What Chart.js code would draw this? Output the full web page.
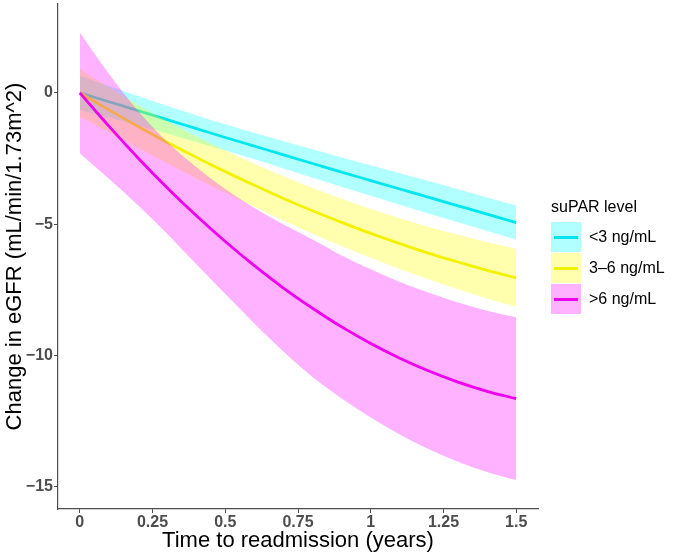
<!DOCTYPE html>
<html><head><meta charset="utf-8">
<script src="https://cdn.jsdelivr.net/npm/chart.js@4.4.0/dist/chart.umd.min.js"></script>
<style>
html,body{margin:0;padding:0;background:#fff;}
#wrap{position:relative;width:674px;height:557px;font-family:'Liberation Sans',Arial,Helvetica,sans-serif;}
#c{position:absolute;left:0;top:0;}
#legend{position:absolute;left:551px;top:197px;}
#legend .ttl{font-size:16px;line-height:20px;color:#000;white-space:nowrap;}
#legend .item{position:relative;height:31px;width:120px;}
#legend .key{position:absolute;left:0;top:0;width:30px;height:30px;}
#legend .key span{position:absolute;left:3px;top:13.5px;width:24px;height:3px;}
#legend .lab{position:absolute;left:38px;top:5px;font-size:16px;line-height:20px;color:#000;white-space:nowrap;}
</style></head><body>
<div id="wrap"><canvas id="c" width="674" height="557"></canvas><div id="legend"></div></div>
<script>
// ---- data ----
const timeYears = [0, 0.1, 0.2, 0.3, 0.4, 0.5, 0.6, 0.7, 0.8, 0.9, 1.0, 1.1, 1.2, 1.3, 1.4, 1.5];

const lowMean  = [0, -0.34, -0.68, -1.02, -1.36, -1.70, -2.03, -2.36, -2.69, -3.02, -3.34, -3.66, -3.98, -4.30, -4.62, -4.94];
const lowUpper = [0.65, 0.26, -0.12, -0.49, -0.85, -1.20, -1.53, -1.84, -2.15, -2.46, -2.76, -3.06, -3.36, -3.67, -3.98, -4.29];
const lowLower = [-0.65, -0.94, -1.24, -1.55, -1.87, -2.20, -2.53, -2.88, -3.23, -3.58, -3.92, -4.26, -4.60, -4.93, -5.26, -5.59];

const midMean  = [0, -0.65, -1.28, -1.88, -2.45, -3.00, -3.52, -4.02, -4.49, -4.93, -5.35, -5.74, -6.11, -6.44, -6.76, -7.04];
const midUpper = [0.9, 0.20, -0.46, -1.08, -1.65, -2.20, -2.70, -3.18, -3.62, -4.03, -4.42, -4.77, -5.11, -5.40, -5.69, -5.94];
const midLower = [-0.9, -1.50, -2.10, -2.68, -3.25, -3.80, -4.34, -4.86, -5.36, -5.83, -6.28, -6.71, -7.11, -7.48, -7.83, -8.14];

const highMean  = [0, -1.27, -2.48, -3.61, -4.67, -5.66, -6.58, -7.43, -8.20, -8.91, -9.54, -10.10, -10.59, -11.01, -11.36, -11.64];
const highUpper = [2.3, 0.73, -0.68, -1.86, -2.82, -3.66, -4.38, -5.01, -5.58, -6.19, -6.72, -7.20, -7.61, -7.98, -8.29, -8.54];
const highLower = [-2.3, -3.27, -4.28, -5.36, -6.52, -7.66, -8.78, -9.85, -10.82, -11.63, -12.36, -13.00, -13.57, -14.04, -14.43, -14.74];

const seriesNames = ['<3 ng/mL', '3\u20136 ng/mL', '>6 ng/mL'];
const legendTitle = 'suPAR level';
const xTickValues = [0, 0.25, 0.5, 0.75, 1, 1.25, 1.5];
const xTickLabels = ['0', '0.25', '0.5', '0.75', '1', '1.25', '1.5'];
const yTickValues = [-15, -10, -5, 0];
const yTickLabels = ['\u221215', '\u221210', '\u22125', '0'];
const xTitle = 'Time to readmission (years)';
const yTitle = 'Change in eGFR (mL/min/1.73m^2)';

// ---- styling ----
const lineColors = ['#00E5EE', '#F2F200', '#EE00EE'];
const fillColors = ['rgba(0,255,255,0.30)', 'rgba(255,255,0,0.32)', 'rgba(255,0,255,0.30)'];
const FONT = "'Liberation Sans', Arial, Helvetica, sans-serif";

const pts = arr => timeYears.map((t, i) => ({x: t, y: arr[i]}));
const groups = [
  [lowLower, lowUpper, lowMean],
  [midLower, midUpper, midMean],
  [highLower, highUpper, highMean]
];

const datasets = [];
groups.forEach((g, k) => {
  const base = 6 - 2 * k;
  const lowerIdx = datasets.length;
  datasets.push({label: seriesNames[k] + ' lower', data: pts(g[0]), borderWidth: 0, pointRadius: 0, fill: false, order: base, borderColor: 'rgba(0,0,0,0)', cubicInterpolationMode: 'monotone'});
  datasets.push({label: seriesNames[k] + ' upper', data: pts(g[1]), borderWidth: 0, pointRadius: 0, fill: {target: lowerIdx}, backgroundColor: fillColors[k], borderColor: 'rgba(0,0,0,0)', order: base, cubicInterpolationMode: 'monotone'});
  datasets.push({label: seriesNames[k], data: pts(g[2]), borderWidth: 2.8, pointRadius: 0, fill: false, borderColor: lineColors[k], order: base - 1, cubicInterpolationMode: 'monotone'});
});

const axisColor = '#4D4D4D';
new Chart(document.getElementById('c'), {
  type: 'line',
  data: {datasets},
  options: {
    responsive: false,
    animation: false,
    layout: {padding: {left: 0, right: 136, top: 4, bottom: 3}},
    plugins: {legend: {display: false}, tooltip: {enabled: false}},
    scales: {
      x: {
        type: 'linear', min: -0.075, max: 1.575,
        afterBuildTicks: a => { a.ticks = xTickValues.map(v => ({value: v})); },
        afterFit: s => { s.height = 45; s.paddingLeft = 0; s.paddingRight = 0; },
        grid: {drawOnChartArea: false, drawTicks: true, tickLength: 4, color: axisColor},
        border: {display: true, color: axisColor, width: 1.2},
        ticks: {
          padding: 0, color: axisColor, maxRotation: 0, autoSkip: false,
          font: {family: FONT, size: 16, weight: 'bold'},
          callback: v => xTickLabels[xTickValues.indexOf(v)]
        },
        title: {display: true, text: xTitle, color: '#000', font: {family: FONT, size: 22}, padding: {top: 0, bottom: 0}}
      },
      y: {
        type: 'linear', min: -15.84, max: 3.38,
        afterBuildTicks: a => { a.ticks = yTickValues.map(v => ({value: v})); },
        afterFit: s => { s.width = 58; s.paddingTop = 0; s.paddingBottom = 0; },
        grid: {drawOnChartArea: false, drawTicks: true, tickLength: 4, color: axisColor},
        border: {display: true, color: axisColor, width: 1.2},
        ticks: {
          padding: 1, color: axisColor, autoSkip: false,
          font: {family: FONT, size: 16, weight: 'bold'},
          callback: v => yTickLabels[yTickValues.indexOf(v)]
        },
        title: {display: true, text: yTitle, color: '#000', font: {family: FONT, size: 22}, padding: {top: 2, bottom: 0}}
      }
    }
  }
});

// ---- legend (HTML, built from the series arrays) ----
const leg = document.getElementById('legend');
const ttl = document.createElement('div');
ttl.className = 'ttl';
ttl.textContent = legendTitle;
ttl.style.marginBottom = '5px';
leg.appendChild(ttl);
seriesNames.forEach((name, k) => {
  const item = document.createElement('div');
  item.className = 'item';
  const key = document.createElement('div');
  key.className = 'key';
  key.style.background = fillColors[k];
  const ln = document.createElement('span');
  ln.style.background = lineColors[k];
  key.appendChild(ln);
  const lab = document.createElement('div');
  lab.className = 'lab';
  lab.textContent = name;
  item.appendChild(key);
  item.appendChild(lab);
  leg.appendChild(item);
});
</script>
</body></html>
